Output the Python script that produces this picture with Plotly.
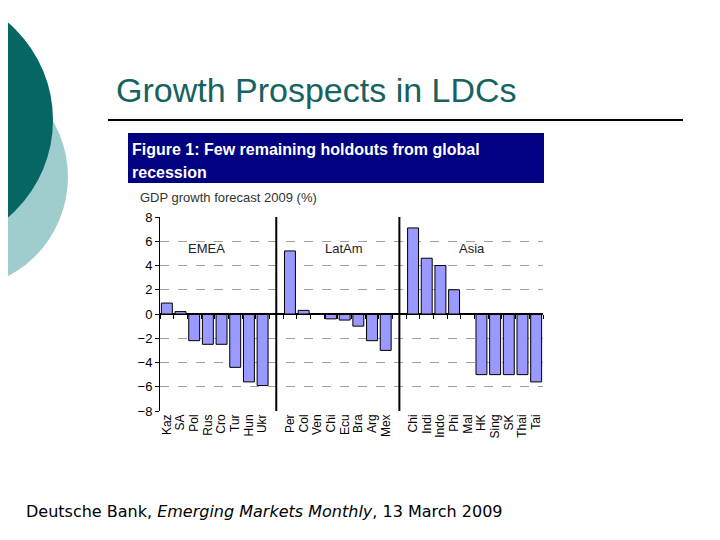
import plotly.graph_objects as go

# ---- data ----
emea_names = ["Kaz", "SA", "Pol", "Rus", "Cro", "Tur", "Hun", "Ukr"]
emea_vals = [0.9, 0.2, -2.2, -2.5, -2.5, -4.4, -5.6, -5.9]
latam_names = ["Per", "Col", "Ven", "Chi", "Ecu", "Bra", "Arg", "Mex"]
latam_vals = [5.2, 0.3, 0.0, -0.4, -0.5, -1.0, -2.2, -3.0]
asia_names = ["Chi", "Indi", "Indo", "Phi", "Mal", "HK", "Sing", "SK", "Thai", "Tai"]
asia_vals = [7.1, 4.6, 4.0, 2.0, 0.0, -5.0, -5.0, -5.0, -5.0, -5.6]
group_names = ["EMEA", "LatAm", "Asia"]
y_ticks = [-8, -6, -4, -2, 0, 2, 4, 6, 8]

groups = [(emea_names, emea_vals), (latam_names, latam_vals), (asia_names, asia_vals)]

# build positions with one blank slot between groups
xs, ys, labels, seps = [], [], [], []
pos = 0
for gi, (names, vals) in enumerate(groups):
    for n, v in zip(names, vals):
        xs.append(pos); ys.append(v); labels.append(n)
        pos += 1
    if gi < len(groups) - 1:
        seps.append(pos)
        pos += 1
n_slots = pos

# page offset (default body margin) and plot area in screen pixels
OFF = 8
W, H = 720 - OFF, 540 - OFF
L, R, T, B = 160, 543, 217, 411
def px(x): return (x - L) / (R - L)
def py(y): return (B - y) / (B - T)

fig = go.Figure()
fig.add_trace(go.Bar(x=xs, y=ys, width=0.8,
                     marker=dict(color="#9999ff", line=dict(color="black", width=1)),
                     hoverinfo="skip", showlegend=False))
fig.add_trace(go.Scatter(x=[0], y=[0], xaxis="x2", mode="markers",
                         marker=dict(opacity=0), showlegend=False, hoverinfo="skip"))

shapes = []
# decorative circles
shapes.append(dict(type="circle", xref="paper", yref="paper", layer="below",
                   x0=px(-44 - 112), x1=px(-44 + 112), y0=py(177 + 112), y1=py(177 - 112),
                   fillcolor="#9fcccc", line=dict(width=0)))
shapes.append(dict(type="circle", xref="paper", yref="paper", layer="below",
                   x0=px(-75 - 128), x1=px(-75 + 128), y0=py(120 + 128), y1=py(120 - 128),
                   fillcolor="#056663", line=dict(width=0)))
# rule under title
shapes.append(dict(type="line", xref="paper", yref="paper",
                   x0=px(108), x1=px(683), y0=py(120), y1=py(120),
                   line=dict(color="black", width=2)))
# navy header box
shapes.append(dict(type="rect", xref="paper", yref="paper",
                   x0=px(128), x1=px(544), y0=py(183), y1=py(133),
                   fillcolor="#000080", line=dict(width=0)))
# group separators
for s in seps:
    shapes.append(dict(type="line", xref="x", yref="y", x0=s, x1=s, y0=-8, y1=8.6,
                       line=dict(color="black", width=2)))

annotations = [
    dict(text="Growth Prospects in LDCs", xref="paper", yref="paper",
         x=px(114), y=py(90), xanchor="left", yanchor="middle", showarrow=False,
         font=dict(family="Liberation Sans, Arial", size=34, color="#17625f")),
    dict(text="<b>Figure 1: Few remaining holdouts from global</b>", xref="paper", yref="paper",
         x=px(130), y=py(149), xanchor="left", yanchor="middle", showarrow=False,
         font=dict(family="Liberation Sans Narrow, Arial Narrow, Liberation Sans", size=16, color="white")),
    dict(text="<b>recession</b>", xref="paper", yref="paper",
         x=px(130), y=py(172), xanchor="left", yanchor="middle", showarrow=False,
         font=dict(family="Liberation Sans Narrow, Arial Narrow, Liberation Sans", size=16, color="white")),
    dict(text="GDP growth forecast 2009 (%)", xref="paper", yref="paper",
         x=px(138), y=py(198), xanchor="left", yanchor="middle", showarrow=False,
         font=dict(family="Liberation Sans, Arial", size=13, color="#333333")),
    dict(text="Deutsche Bank, <i>Emerging Markets Monthly</i>, 13 March 2009", xref="paper", yref="paper",
         x=px(24), y=py(511), xanchor="left", yanchor="middle", showarrow=False,
         font=dict(family="DejaVu Sans, Verdana", size=16, color="black")),
]
group_label_pos = [(2.9, 5.4), (12.95, 5.4), (22.3, 5.4)]
for g, (gx, gy) in zip(group_names, group_label_pos):
    annotations.append(dict(text=g, x=gx, y=gy, xref="x", yref="y", showarrow=False,
                            font=dict(family="Liberation Sans, Arial", size=13, color="#222222")))

boundaries = [i + 0.5 for i in range(-1, n_slots)]

fig.update_layout(
    width=W, height=H,
    margin=dict(l=L - OFF, r=W - (R - OFF), t=T - OFF, b=H - (B - OFF), pad=0),
    paper_bgcolor="white", plot_bgcolor="white",
    showlegend=False,
    shapes=shapes, annotations=annotations,
    xaxis=dict(range=[-0.5, n_slots - 0.5], tickvals=xs, ticktext=labels, tickangle=-90,
               showgrid=False, zeroline=False, showline=False, ticks="",
               tickfont=dict(family="Liberation Sans, Arial", size=12, color="black")),
    xaxis2=dict(overlaying="x", anchor="free", position=0.5, range=[-0.5, n_slots - 0.5],
                tickvals=boundaries, ticks="outside", ticklen=4, tickcolor="black",
                showticklabels=False, showgrid=False, zeroline=False,
                showline=True, linecolor="black", linewidth=1),
    yaxis=dict(range=[-8, 8], tickvals=y_ticks, showgrid=True, gridcolor="#a0a0a0",
               griddash="dash", gridwidth=1, zeroline=True, zerolinecolor="black",
               showline=True, linecolor="black", linewidth=1, ticks="outside", ticklen=4,
               tickcolor="black",
               tickfont=dict(family="Liberation Sans, Arial", size=13, color="black")),
)

fig.write_html("out.html")
